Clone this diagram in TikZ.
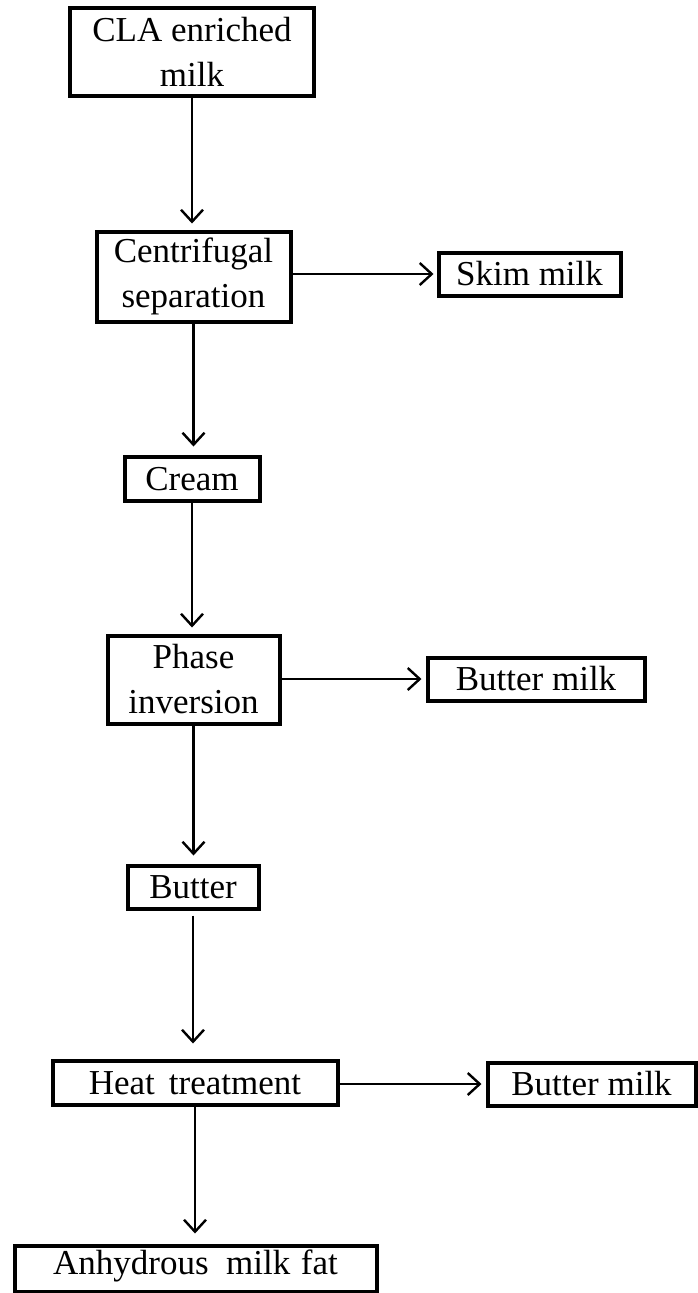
\documentclass[tikz,border=0pt]{standalone}
\usepackage{fontspec}
\setmainfont{Liberation Serif}
\usetikzlibrary{arrows.meta}
\begin{document}
\begin{tikzpicture}[x=1pt,y=-1pt,
    box/.style={draw, line width=4pt, inner sep=0pt, align=center,
      font=\fontsize{35pt}{45pt}\selectfont},
    onebox/.style={box, text height=23pt, text depth=0pt},
    flow/.style={line width=2.4pt,
      -{Straight Barb[length=12pt,width=22pt,line width=2.4pt]}}]
  \useasboundingbox (0,0) rectangle (698,1293);

  % main line
  \node[box, minimum width=244pt, minimum height=88pt] (cla) at (192,51.5) {CLA enriched\\milk};
  \node[box, minimum width=194pt, minimum height=90pt] (sep) at (193.5,276.5) {Centrifugal\\separation};
  \node[onebox, minimum width=135pt, minimum height=44pt] (cream) at (192,478.5) {Cream};
  \node[box, minimum width=172pt, minimum height=88pt] (phase) at (193.5,679.5) {Phase\\inversion};
  \node[onebox, minimum width=131pt, minimum height=43pt] (butter) at (193,887) {Butter};
  \node[onebox, minimum width=285pt, minimum height=44pt] (heat) at (195,1082.5) {Heat\hspace{0.4em}treatment};
  \node[onebox, text depth=12pt, minimum width=362pt, minimum height=46pt] (amf) at (195.5,1268.5) {Anhydrous\hspace{0.5em}milk\hspace{0.3em}fat};

  % side products
  \node[onebox, minimum width=182pt, minimum height=43pt] (skim) at (529.5,274) {Skim milk};
  \node[onebox, minimum width=217pt, minimum height=43pt] (bmilkA) at (536,679) {Butter milk};
  \node[onebox, minimum width=208pt, minimum height=43pt] (bmilkB) at (591.5,1084) {Butter milk};

  \foreach \a/\b/\s/\g in {cla/sep/0/6, sep/cream/0/8, cream/phase/0/6,
      phase/butter/0/8, butter/heat/5/15, heat/amf/0/10}{
    \draw[flow, shorten <=\s pt, shorten >=\g pt] (\a.south) -- (\a.south |- \b.north);
  }

  \foreach \a/\b/\g in {sep/skim/3, phase/bmilkA/4, heat/bmilkB/4}{
    \draw[flow, shorten >=\g pt] (\b.west -| \a.east) -- (\b.west);
  }
\end{tikzpicture}
\end{document}
